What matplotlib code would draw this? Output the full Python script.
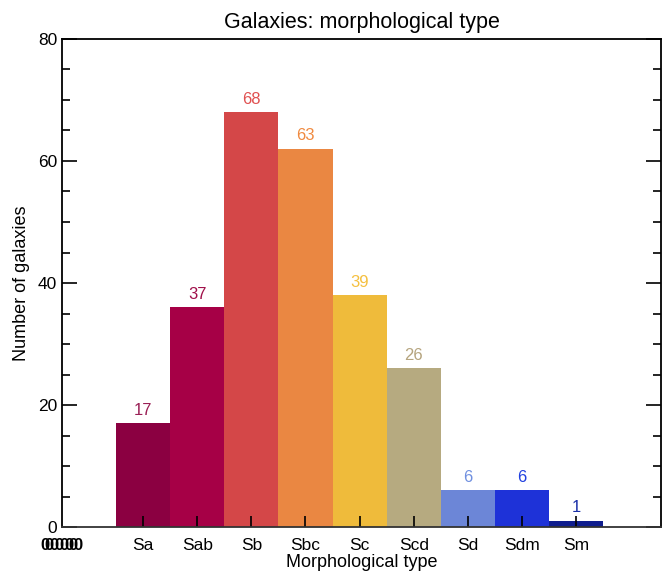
"""
Bar chart of galaxy counts by morphological type.
"""
import matplotlib.pyplot as plt
from matplotlib.ticker import MultipleLocator

types = ["Sa", "Sab", "Sb", "Sbc", "Sc", "Scd", "Sd", "Sdm", "Sm"]
counts = [17, 36, 68, 62, 38, 26, 6, 6, 1]
labels = ["17", "37", "68", "63", "39", "26", "6", "6", "1"]
bar_colors = ["#8b0041", "#a60046", "#d44748", "#ea8742", "#efbb3b",
              "#b6aa80", "#6c86d7", "#1e32d8", "#0f1d8e"]
text_colors = ["#9a1f55", "#a0104a", "#e05050", "#f08a40", "#f5c040",
               "#b5a47e", "#7090e0", "#2040e0", "#1a30a8"]


def main(figsize):
    plt.rcParams["font.family"] = ["Liberation Sans", "DejaVu Sans"]
    fig = plt.figure(figsize=figsize, dpi=100)
    ax = fig.add_axes([62 / 663, 44 / 571, 599 / 663, 488 / 571])

    x = range(1, len(types) + 1)
    ax.bar(x, counts, width=1.0, color=bar_colors, linewidth=0)
    for xi, c, lab, col in zip(x, counts, labels, text_colors):
        ax.annotate(lab, (xi, c), xytext=(0, 4), textcoords="offset points",
                    ha="center", va="bottom", color=col, fontsize=12)

    ax.set_xlim(-0.5, 10.57)
    ax.set_ylim(0, 80)
    ax.set_xticks(list(x))
    ax.set_xticklabels(types, fontsize=12.5)
    ax.yaxis.set_major_locator(MultipleLocator(20))
    ax.yaxis.set_minor_locator(MultipleLocator(5))
    ax.tick_params(axis="y", which="both", direction="in", left=True,
                   right=True, labelsize=12.5, width=1.2)
    ax.tick_params(axis="y", which="major", length=11)
    ax.tick_params(axis="y", which="minor", length=6)
    ax.tick_params(axis="x", direction="in", length=8, width=1.2, top=False,
                   pad=8)
    for s in ax.spines.values():
        s.set_linewidth(1.3)
    ax.spines["bottom"].set_color("#333333")

    ax.set_title("Galaxies: morphological type", fontsize=15.5, pad=8)
    ax.set_xlabel("Morphological type", fontsize=13, labelpad=0.5)
    ax.set_ylabel("Number of galaxies", fontsize=13, labelpad=6)

    # squashed tick labels at the lower left corner
    for i in range(8):
        fig.text((40 + i * 4.8) / 663, 1 - 545 / 571, "0", fontsize=12,
                 ha="left", va="center", fontweight="bold")

    fig.savefig("out.png")


if __name__ == "__main__":
    main(figsize=(6.63, 5.71))
